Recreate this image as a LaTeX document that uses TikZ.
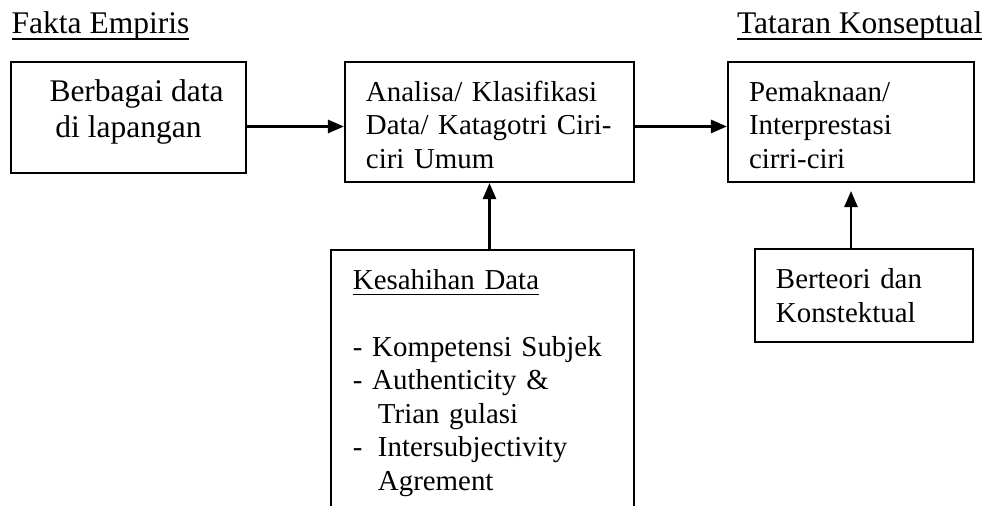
\documentclass[tikz,border=0pt]{standalone}
\usepackage{fontspec}
\setmainfont{Liberation Serif}
\usetikzlibrary{arrows.meta}

\newcommand{\garis}[1]{\underline{\smash{#1}}}

\begin{document}
\begin{tikzpicture}[
        besar/.style={font=\fontsize{8.96}{10.1}\selectfont},
        kecil/.style={font=\fontsize{8.22}{9.53}\selectfont},
        kotak/.style={draw, line width=0.6pt, inner ysep=0pt},
        panah/.style={-{Triangle[length=0.16cm,width=0.13cm]}, line width=0.75pt}
    ]

        % Area
        \clip (0,0) rectangle (9.86,5.06);
        \fill[white] (0,0) rectangle (9.86,5.06);

        % Judul
        \node[besar, inner sep=0pt, anchor=base west] (fakta) at (0.11,4.72)
        {\garis{Fakta Empiris}};
        \node[besar, inner sep=0pt, anchor=base east] (tataran) at (9.83,4.72)
        {\garis{Tataran Konseptual}};

        % Kotak atas
        \node[kotak, besar, align=center, minimum width=2.35cm, minimum height=1.11cm] (data) at (1.285,3.885)
        {\hspace*{0.16cm}Berbagai data\\di lapangan\rule[-0.178cm]{0pt}{0pt}};
        \node[kotak, kecil, align=left, inner xsep=0.21cm, text width=2.47cm, minimum height=1.20cm] (analisa) at (4.895,3.84)
        {\rule{0pt}{0.257cm}Analisa/ Klasifikasi\\Data/ Katagotri Ciri-\\ciri Umum};
        \node[kotak, kecil, align=left, inner xsep=0.21cm, text width=2.04cm, minimum height=1.20cm] (makna) at (8.51,3.84)
        {\rule{0pt}{0.257cm}Pemaknaan/\\Interprestasi\\cirri-ciri};

        % Kotak bawah
        \node[kotak, kecil, align=left, anchor=north, inner xsep=0.22cm, inner ysep=0.19cm, text width=2.59cm] (sahih) at (4.825,2.57)
        {\underline{Kesahihan Data}\\[0.335cm]
         - Kompetensi Subjek\\
         - Authenticity \&\\
         \hspace*{0.25cm}Trian gulasi\\
         \makebox[0.25cm][l]{-}Intersubjectivity\\
         \hspace*{0.25cm}Agrement};
        \node[kotak, kecil, align=left, inner xsep=0.21cm, text width=1.76cm, minimum height=0.93cm] (teori) at (8.64,2.105)
        {Berteori dan\\Konstektual};

        % Panah
        \coordinate (baris) at (0,3.795);
        \draw[panah] (data.east |- baris) -- (analisa.west |- baris);
        \draw[panah] (analisa.east |- baris) -- (makna.west |- baris);
        \draw[panah] (analisa.south |- sahih.north) -- (analisa.south);
        \draw[panah] (makna.south |- teori.north) -- ([yshift=-0.08cm]makna.south);
    \end{tikzpicture}
\end{document}
